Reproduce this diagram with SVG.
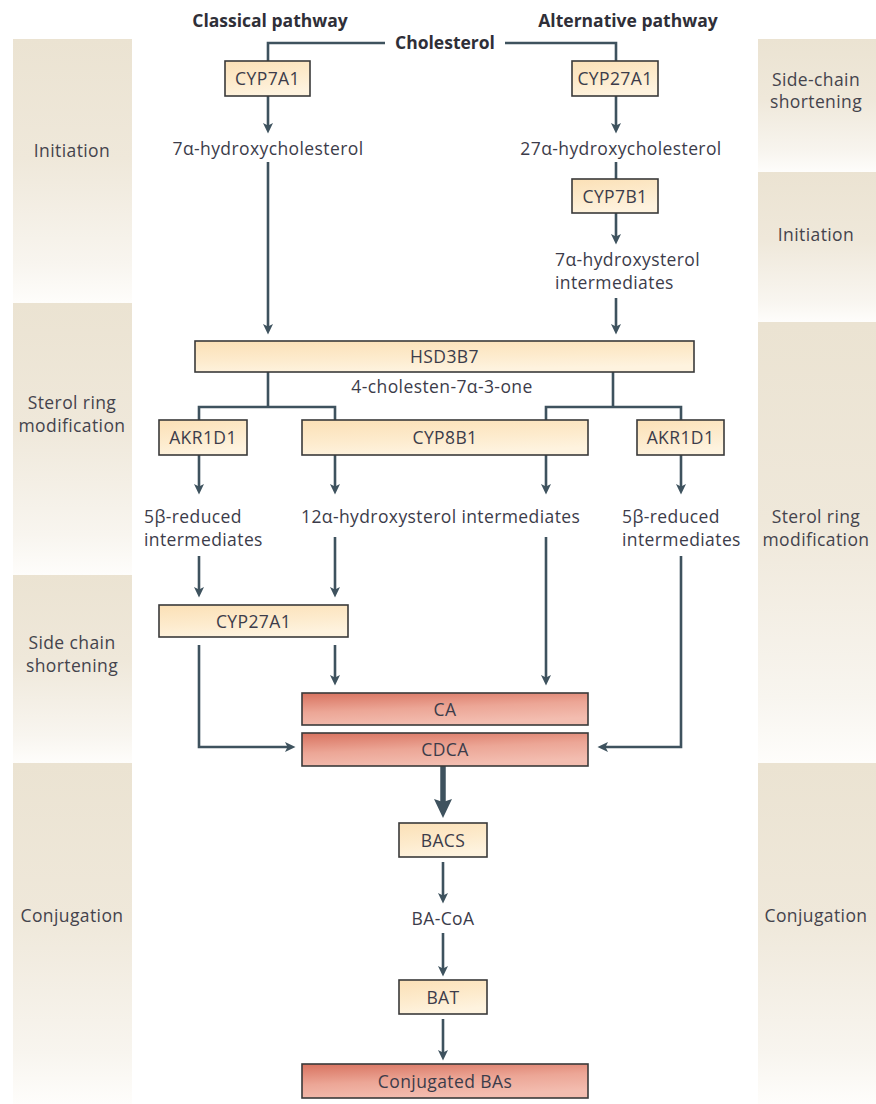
<svg xmlns="http://www.w3.org/2000/svg" width="876" height="1104" viewBox="0 0 876 1104">
<defs>
<linearGradient id="panel" x1="0" y1="0" x2="0" y2="1">
<stop offset="0" stop-color="#ebe3d2"/>
<stop offset="0.45" stop-color="#efe8da"/>
<stop offset="0.85" stop-color="#f8f5ef"/>
<stop offset="1" stop-color="#fefdfb"/>
</linearGradient>
<linearGradient id="peach" x1="0" y1="0" x2="0.3" y2="1">
<stop offset="0" stop-color="#fbe0b6"/>
<stop offset="0.6" stop-color="#fdebcd"/>
<stop offset="1" stop-color="#fef3df"/>
</linearGradient>
<linearGradient id="red" x1="0" y1="0" x2="0.35" y2="1">
<stop offset="0" stop-color="#d8725f"/>
<stop offset="0.55" stop-color="#eca696"/>
<stop offset="1" stop-color="#f3bdb0"/>
</linearGradient>
<marker id="arr" markerUnits="userSpaceOnUse" markerWidth="11" markerHeight="11" viewBox="0 0 11 11" refX="3" refY="5.5" orient="auto">
<path d="M0,0.5 L10.5,5.5 L0,10.5 L2.5,5.5 z" fill="#3e525e"/>
</marker>
<marker id="arrBig" markerUnits="userSpaceOnUse" markerWidth="20" markerHeight="20" viewBox="0 0 20 20" refX="4" refY="10" orient="auto">
<path d="M0,1 L19,10 L0,19 L3,10 z" fill="#3e525e"/>
</marker>
</defs>
<style>
text{font-family:"Open Sans","Noto Sans","Liberation Sans",sans-serif;font-size:17.5px;letter-spacing:0.4px;fill:#3c3c4a;}
.lbl{text-anchor:middle;}
.side{text-anchor:middle;fill:#44434c;}
.title{font-weight:bold;font-size:17.5px;letter-spacing:0;text-anchor:middle;fill:#2f2f38;}
.box{fill:url(#peach);stroke:#3a3a3a;stroke-width:1.6;}
.rbox{fill:url(#red);stroke:#3a3a3a;stroke-width:1.6;}
.pan{fill:url(#panel);}
.con{fill:none;stroke:#3e525e;stroke-width:2.6;}
.arr{marker-end:url(#arr);}
</style>
<rect width="876" height="1104" fill="#ffffff"/>

<g id="panels">
<rect class="pan" x="13" y="39" width="119" height="264"/>
<rect class="pan" x="13" y="303" width="119" height="272"/>
<rect class="pan" x="13" y="575" width="119" height="188"/>
<rect class="pan" x="13" y="763" width="119" height="341"/>
<rect class="pan" x="758" y="39" width="118" height="133"/>
<rect class="pan" x="758" y="172" width="118" height="150"/>
<rect class="pan" x="758" y="322" width="118" height="441"/>
<rect class="pan" x="758" y="763" width="118" height="341"/>
</g>

<g id="side-labels">
<text class="side" x="72" y="157">Initiation</text>
<text class="side" x="72" y="409">Sterol ring</text>
<text class="side" x="72" y="432">modification</text>
<text class="side" x="72" y="649">Side chain</text>
<text class="side" x="72" y="672">shortening</text>
<text class="side" x="72" y="922">Conjugation</text>
<text class="side" x="816" y="86">Side-chain</text>
<text class="side" x="816" y="108">shortening</text>
<text class="side" x="816" y="241">Initiation</text>
<text class="side" x="816" y="523">Sterol ring</text>
<text class="side" x="816" y="546">modification</text>
<text class="side" x="816" y="922">Conjugation</text>
</g>

<g id="titles">
<text class="title" x="270" y="27">Classical pathway</text>
<text class="title" x="628" y="27">Alternative pathway</text>
</g>

<g id="connectors">
<polyline class="con" points="385,43 268,43 268,61"/>
<polyline class="con" points="505,43 616,43 616,61"/>
<line class="con arr" x1="268" y1="96" x2="268" y2="126"/>
<line class="con arr" x1="268" y1="162" x2="268" y2="327"/>
<line class="con arr" x1="616" y1="96" x2="616" y2="126"/>
<line class="con" x1="616" y1="162" x2="616" y2="179"/>
<line class="con arr" x1="616" y1="213" x2="616" y2="237"/>
<line class="con arr" x1="616" y1="298" x2="616" y2="327"/>
<line class="con" x1="268" y1="372" x2="268" y2="407"/>
<polyline class="con" points="199,420 199,407 335,407 335,420"/>
<line class="con" x1="613" y1="372" x2="613" y2="407"/>
<polyline class="con" points="546,420 546,407 681,407 681,420"/>
<line class="con arr" x1="199" y1="455" x2="199" y2="487"/>
<line class="con arr" x1="335" y1="455" x2="335" y2="487"/>
<line class="con arr" x1="546" y1="455" x2="546" y2="487"/>
<line class="con arr" x1="681" y1="455" x2="681" y2="487"/>
<line class="con arr" x1="199" y1="556" x2="199" y2="590"/>
<line class="con arr" x1="335" y1="537" x2="335" y2="590"/>
<line class="con arr" x1="546" y1="537" x2="546" y2="678"/>
<polyline class="con arr" points="199,645 199,747 288,747"/>
<line class="con arr" x1="335" y1="645" x2="335" y2="678"/>
<polyline class="con arr" points="681,556 681,747 605,747"/>
<line x1="443" y1="766" x2="443" y2="803" stroke="#3e525e" stroke-width="5.5" marker-end="url(#arrBig)"/>
<line class="con arr" x1="443" y1="862" x2="443" y2="896"/>
<line class="con arr" x1="443" y1="933" x2="443" y2="969"/>
<line class="con arr" x1="443" y1="1019" x2="443" y2="1053"/>
</g>

<g id="cholesterol"><text class="title" x="445" y="49">Cholesterol</text></g>

<g id="cyp7a1"><rect class="box" x="225" y="61" width="85" height="35"/><text class="lbl" x="267.5" y="85">CYP7A1</text></g>
<g id="hydroxycholesterol7"><text class="lbl" x="268" y="155">7α-hydroxycholesterol</text></g>

<g id="cyp27a1-top"><rect class="box" x="572" y="61" width="86" height="35"/><text class="lbl" x="615" y="85">CYP27A1</text></g>
<g id="hydroxycholesterol27"><text class="lbl" x="621" y="155">27α-hydroxycholesterol</text></g>
<g id="cyp7b1"><rect class="box" x="572" y="179" width="86" height="34"/><text class="lbl" x="615" y="203">CYP7B1</text></g>
<g id="hydroxysterol7"><text x="555" y="266">7α-hydroxysterol</text><text x="555" y="289">intermediates</text></g>

<g id="hsd3b7"><rect class="box" x="195" y="341" width="499" height="31"/><text class="lbl" x="444.5" y="363">HSD3B7</text></g>
<g id="cholestenone"><text class="lbl" x="442" y="393">4-cholesten-7α-3-one</text></g>

<g id="akr1d1-left"><rect class="box" x="159" y="420" width="88" height="35"/><text class="lbl" x="203" y="444">AKR1D1</text></g>
<g id="cyp8b1"><rect class="box" x="302" y="420" width="286" height="35"/><text class="lbl" x="445" y="444">CYP8B1</text></g>
<g id="akr1d1-right"><rect class="box" x="637" y="420" width="87" height="35"/><text class="lbl" x="680.5" y="444">AKR1D1</text></g>

<g id="reduced-left"><text x="144" y="523">5β-reduced</text><text x="144" y="546">intermediates</text></g>
<g id="hydroxysterol12"><text x="301" y="523">12α-hydroxysterol intermediates</text></g>
<g id="reduced-right"><text x="622" y="523">5β-reduced</text><text x="622" y="546">intermediates</text></g>

<g id="cyp27a1-low"><rect class="box" x="159" y="605" width="189" height="32"/><text class="lbl" x="253.5" y="628">CYP27A1</text></g>

<g id="ca"><rect class="rbox" x="302" y="693" width="286" height="32"/><text class="lbl" x="445" y="716">CA</text></g>
<g id="cdca"><rect class="rbox" x="302" y="733" width="286" height="33"/><text class="lbl" x="445" y="756">CDCA</text></g>

<g id="bacs"><rect class="box" x="399" y="823" width="88" height="34"/><text class="lbl" x="443" y="847">BACS</text></g>
<g id="bacoa"><text class="lbl" x="443" y="925">BA-CoA</text></g>
<g id="bat"><rect class="box" x="399" y="980" width="88" height="34"/><text class="lbl" x="443" y="1004">BAT</text></g>
<g id="conjugated"><rect class="rbox" x="302" y="1064" width="286" height="34"/><text class="lbl" x="445" y="1088">Conjugated BAs</text></g>
</svg>
